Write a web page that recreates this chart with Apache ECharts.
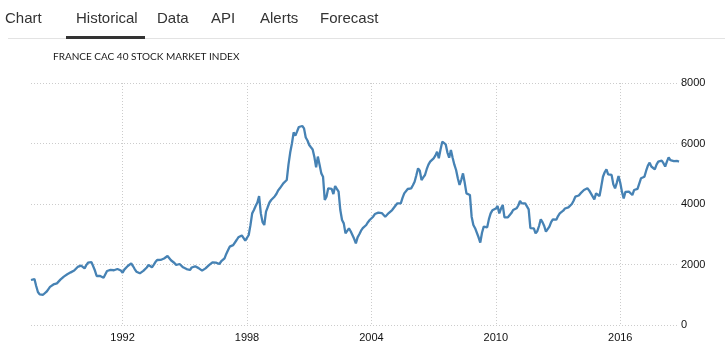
<!DOCTYPE html>
<html>
<head>
<meta charset="utf-8">
<script src="https://cdn.jsdelivr.net/npm/echarts@6/dist/echarts.min.js"></script>
<style>
  html, body { margin: 0; padding: 0; background: #fff; width: 725px; height: 356px; overflow: hidden; }
  #tabs { position: absolute; left: 0; top: 0; width: 725px; height: 39px; font-family: "Liberation Sans", Arial, sans-serif; font-size: 15px; color: #333; }
  #tabs span { position: absolute; top: 9px; }
  #sep { position: absolute; left: 8px; top: 38px; width: 717px; height: 1px; background: #e3e3e3; }
  #under { position: absolute; left: 66px; top: 36px; width: 79px; height: 3px; background: #333; }
  #chart { position: absolute; left: 0; top: 0; width: 725px; height: 356px; }
</style>
</head>
<body>
<div id="chart"></div>
<div id="tabs">
  <span style="left:5px">Chart</span>
  <span style="left:76px">Historical</span>
  <span style="left:157px">Data</span>
  <span style="left:211px">API</span>
  <span style="left:260px">Alerts</span>
  <span style="left:320px">Forecast</span>
  <div id="sep"></div>
  <div id="under"></div>
</div>
<script>
const title = "FRANCE CAC 40 STOCK MARKET INDEX";
const startYear = 1987, startMonth = 8;
const tickYears = ["1992", "1998", "2004", "2010", "2016"];
const yTicks = [0, 2000, 4000, 6000, 8000];
const v1987 = [1488, 1505, 1520, 1290, 1090];
const v1988 = [1010, 975, 1000, 1060, 1100, 1180, 1260, 1322, 1340, 1360, 1377, 1440];
const v1989 = [1500, 1543, 1600, 1640, 1675, 1700, 1740, 1770, 1800, 1850, 1920, 1940];
const v1990 = [1960, 1950, 1873, 1980, 2060, 2116, 2080, 2017, 1800, 1620, 1630, 1620];
const v1991 = [1580, 1560, 1543, 1785, 1800, 1820, 1840, 1810, 1825, 1850, 1873, 1800];
const v1992 = [1730, 1830, 1895, 1950, 2000, 2040, 1950, 1850, 1763, 1730, 1708, 1760];
const v1993 = [1790, 1818, 1900, 1983, 1960, 1907, 1990, 2080, 2149, 2140, 2150, 2140];
const v1994 = [2200, 2250, 2281, 2220, 2140, 2080, 2050, 1983, 2000, 2017, 1960, 1907];
const v1995 = [1880, 1850, 1830, 1818, 1900, 1950, 1940, 1928, 1880, 1830, 1796, 1830];
const v1996 = [1873, 1920, 1980, 2040, 2070, 2094, 2060, 2030, 2017, 2100, 2160, 2204];
const v1997 = [2350, 2470, 2590, 2645, 2640, 2700, 2810, 2900, 2952, 2960, 2952, 2787];
const v1998 = [2850, 2975, 3300, 3690, 3800, 3934, 4050, 4264, 3690, 3400, 3306, 3746];
const v1999 = [3900, 4050, 4132, 4160, 4250, 4330, 4450, 4518, 4480, 4684, 4700, 4793];
const v2000 = [5300, 5700, 6000, 6370, 6260, 6400, 6545, 6560, 6578, 6500, 6200, 6100];
const v2001 = [5950, 5874, 5800, 5550, 5213, 5567, 5300, 5013, 4903, 4132, 4240, 4518];
const v2002 = [4518, 4500, 4330, 4595, 4500, 4407, 3800, 3471, 3360, 3030, 2975, 3196];
const v2003 = [3100, 3052, 2850, 2700, 2898, 3000, 3118, 3200, 3250, 3306, 3400, 3470];
const v2004 = [3471, 3580, 3669, 3700, 3713, 3669, 3700, 3690, 3580, 3620, 3700, 3746];
const v2005 = [3800, 3857, 3950, 4022, 4020, 4022, 4200, 4352, 4400, 4496, 4510, 4518];
const v2006 = [4620, 4738, 4950, 5180, 5100, 4793, 4880, 4960, 5150, 5300, 5400, 5450];
const v2007 = [5510, 5600, 5730, 5510, 5800, 6060, 6000, 5970, 5700, 5530, 5785, 5530];
const v2008 = [5300, 5124, 4850, 4628, 4800, 5013, 4700, 4352, 4400, 4300, 3580, 3306];
const v2009 = [3200, 3140, 2900, 2725, 3050, 3250, 3230, 3230, 3500, 3690, 3790, 3800];
const v2010 = [3850, 3934, 3690, 3850, 3967, 3560, 3500, 3560, 3620, 3700, 3800, 3830];
const v2011 = [3857, 3950, 4100, 4022, 4060, 4022, 4000, 3824, 3200, 3140, 3195, 3030];
const v2012 = [3100, 3273, 3493, 3400, 3273, 3085, 3100, 3250, 3400, 3493, 3450, 3480];
const v2013 = [3600, 3690, 3730, 3780, 3850, 3800, 3890, 3950, 4000, 4110, 4242, 4250];
const v2014 = [4280, 4350, 4407, 4462, 4480, 4518, 4450, 4352, 4300, 4154, 4352, 4300];
const v2015 = [4264, 4573, 4900, 5050, 5146, 4980, 5000, 4960, 4650, 4518, 4700, 4925];
const v2016 = [4700, 4400, 4187, 4400, 4462, 4407, 4350, 4297, 4462, 4470, 4500, 4518];
const v2017 = [4849, 4880, 4903, 5100, 5270, 5366, 5240, 5180, 5146, 5300, 5400, 5380];
const v2018 = [5433, 5350, 5240, 5400, 5543, 5450, 5400, 5420, 5400, 5422, 5400];

const values = [].concat(v1987, v1988, v1989, v1990, v1991, v1992, v1993, v1994, v1995,
  v1996, v1997, v1998, v1999, v2000, v2001, v2002, v2003, v2004, v2005, v2006, v2007,
  v2008, v2009, v2010, v2011, v2012, v2013, v2014, v2015, v2016, v2017, v2018);

const categories = values.map((_, i) => {
  const m = startMonth - 1 + i;
  const y = startYear + Math.floor(m / 12);
  const mm = (m % 12) + 1;
  return y + "-" + (mm < 10 ? "0" + mm : mm);
});
const isTick = (idx) => {
  const c = categories[idx];
  return c.endsWith("-01") && tickYears.includes(c.slice(0, 4));
};

const chart = echarts.init(document.getElementById("chart"));
chart.setOption({
  animation: false,
  title: {
    text: title, left: 53, top: 52, padding: 0,
    textStyle: { fontFamily: "Lato", fontSize: 10, fontWeight: "normal", color: "#1a1a1a" }
  },
  grid: { left: 31, right: 46, top: 83, bottom: 31 },
  xAxis: {
    type: "category", data: categories, boundaryGap: false,
    axisLine: { show: false }, axisTick: { show: false },
    axisLabel: {
      interval: (idx) => isTick(idx),
      formatter: (v) => v.slice(0, 4),
      color: "#111", fontFamily: "Liberation Sans", fontSize: 11, margin: 7
    },
    splitLine: { show: true, interval: (idx) => isTick(idx), lineStyle: { color: "#ccc", type: [1, 2], width: 1 } }
  },
  yAxis: {
    type: "value", position: "right", min: yTicks[0], max: yTicks[yTicks.length - 1], interval: 2000,
    axisLine: { show: false }, axisTick: { show: false },
    axisLabel: { color: "#111", fontFamily: "Liberation Sans", fontSize: 11, margin: 2, formatter: (v) => String(v) },
    splitLine: { lineStyle: { color: "#ccc", type: [1, 2], width: 1 } }
  },
  series: [{
    type: "line", data: values, showSymbol: false,
    lineStyle: { color: "#4682b4", width: 2.3 }
  }]
});
</script>
</body>
</html>
